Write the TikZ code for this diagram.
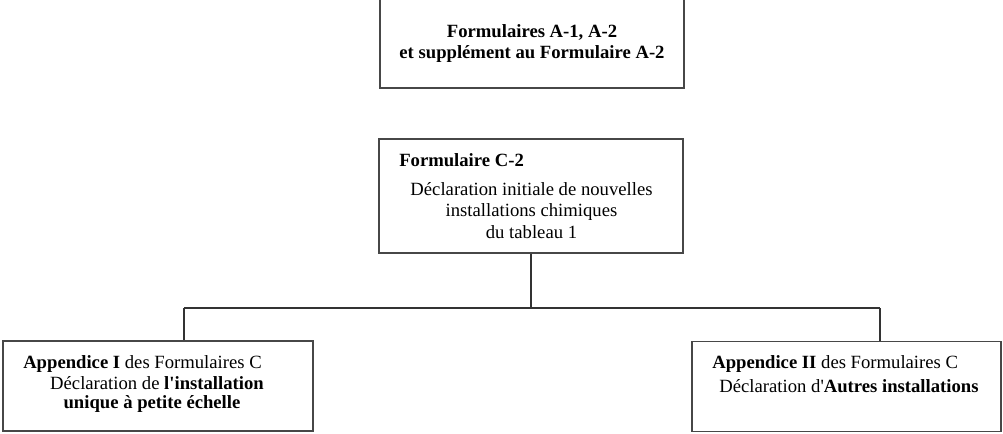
\documentclass[tikz,border=0pt]{standalone}
\usepackage{fontspec}
\setmainfont{Liberation Serif}[Ligatures=TeXOff]
\begin{document}
\begin{tikzpicture}[x=0.75pt,y=-0.75pt,
  formbox/.style={draw=black!72,line width=0.9pt,fill=none,inner sep=0pt},
  link/.style={draw=black!80,line width=0.9pt},
  txt/.style={inner sep=0pt,font=\fontsize{14}{17}\selectfont}]
\useasboundingbox[fill=white] (0,0) rectangle (1003,433);

% boxes
\draw[formbox] (380,-10) rectangle (684,88);
\node[formbox,minimum width=228pt,minimum height=85.5pt] (mid) at (531,196) {};
\node[formbox,minimum width=232.5pt,minimum height=67.5pt] (left) at (158,386) {};
\node[formbox,minimum width=231.75pt,minimum height=67.5pt] (right) at (846.5,386.5) {};

% top box text
\node[txt,anchor=base] (ta) at (532,37) {\bfseries Formulaires A-1, A-2};
\node[txt,anchor=base] (tb) at (532,58) {\bfseries et supplément au Formulaire A-2};

% middle box text
\node[txt,anchor=base west] (ma) at (399,166) {\bfseries Formulaire C-2};
\node[txt,anchor=base] (mb) at (531.5,195) {Déclaration initiale de nouvelles};
\node[txt,anchor=base] (mc) at (531.5,216) {installations chimiques};
\node[txt,anchor=base] (md) at (531.5,238) {du tableau 1};

% left box text
\node[txt,anchor=base west] (la) at (23,368) {\textbf{Appendice I} des Formulaires C};
\node[txt,anchor=base] (lb) at (157,389) {Déclaration de \textbf{l'installation}};
\node[txt,anchor=base] (lc) at (152,408) {\textbf{unique à petite échelle}};

% right box text
\node[txt,anchor=base west] (ra) at (712,368) {\textbf{Appendice II} des Formulaires C};
\node[txt,anchor=base] (rb) at (849,392) {Déclaration d'\textbf{Autres installations}};

% connectors
\coordinate (busl) at (184,308);
\coordinate (busr) at (880,308);
\draw[link] (mid.south) -- (mid.south |- busl);
\draw[link] (busl) -- (busr);
\draw[link] (busl) -- (busl |- left.north);
\draw[link] (busr) -- (busr |- right.north);
\end{tikzpicture}
\end{document}
